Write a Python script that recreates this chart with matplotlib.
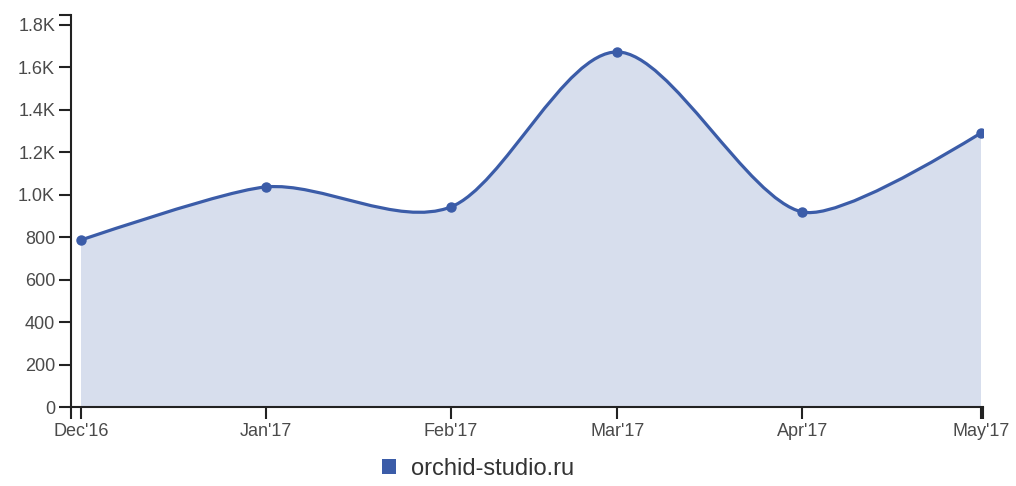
import datetime as dt

import matplotlib
matplotlib.use('Agg')
import matplotlib.pyplot as plt
import matplotlib.dates as mdates
from matplotlib.path import Path
from matplotlib.patches import PathPatch, Patch

plt.rcParams['font.family'] = ['Liberation Sans', 'DejaVu Sans']

# data
months = [dt.datetime(2016, 12, 1), dt.datetime(2017, 1, 1), dt.datetime(2017, 2, 1),
          dt.datetime(2017, 3, 1), dt.datetime(2017, 4, 1), dt.datetime(2017, 5, 1)]
visits = [787, 1037, 942, 1673, 919, 1291]
month_labels = ["Dec'16", "Jan'17", "Feb'17", "Mar'17", "Apr'17", "May'17"]
y_ticks = [0, 200, 400, 600, 800, 1000, 1200, 1400, 1600, 1800]
y_tick_labels = ['0', '200', '400', '600', '800', '1.0K', '1.2K', '1.4K', '1.6K', '1.8K']
series_name = 'orchid-studio.ru'

line_color = '#3b5ca8'
text_color = '#4a4a4a'


def cardinal_path(xs, ys, tension=0.7):
    # same curve as d3 v3 "cardinal" interpolation
    pts = list(zip(xs, ys))
    a = (1 - tension) / 2
    tang = []
    for i in range(1, len(pts) - 1):
        tang.append((a * (pts[i + 1][0] - pts[i - 1][0]), a * (pts[i + 1][1] - pts[i - 1][1])))
    verts = [pts[0]]
    codes = [Path.MOVETO]
    # first segment: quadratic
    p, t0 = pts[1], tang[0]
    verts += [(p[0] - t0[0] * 2 / 3, p[1] - t0[1] * 2 / 3), p]
    codes += [Path.CURVE3, Path.CURVE3]
    for i in range(1, len(tang)):
        p0, p1 = pts[i], pts[i + 1]
        ta, tb = tang[i - 1], tang[i]
        verts += [(p0[0] + ta[0], p0[1] + ta[1]), (p1[0] - tb[0], p1[1] - tb[1]), p1]
        codes += [Path.CURVE4] * 3
    p, t, lp = pts[-2], tang[-1], pts[-1]
    verts += [(p[0] + t[0] * 2 / 3, p[1] + t[1] * 2 / 3), lp]
    codes += [Path.CURVE3, Path.CURVE3]
    return verts, codes


xnum = mdates.date2num(months)
verts, codes = cardinal_path(list(xnum), visits)

fig = plt.figure(figsize=(10.16, 4.86), dpi=100)
ax = fig.add_axes([71 / 1016, 1 - 407 / 486, 912 / 1016, 392 / 486])

# area under the curve
fill_verts = verts + [(xnum[-1], 0), (xnum[0], 0), (xnum[0], visits[0])]
fill_codes = codes + [Path.LINETO, Path.LINETO, Path.CLOSEPOLY]
ax.add_patch(PathPatch(Path(fill_verts, fill_codes), facecolor=line_color, alpha=0.2,
                       edgecolor='none', zorder=1))
ax.add_patch(PathPatch(Path(verts, codes), facecolor='none', edgecolor=line_color,
                       lw=2.3, zorder=2))
ax.plot(months, visits, 'o', color=line_color, markersize=6.5, zorder=3)

px_day = 900 / (xnum[-1] - xnum[0])
ax.set_xlim(xnum[0] - 10 / px_day, xnum[-1] + 2 / px_day)
ax.set_ylim(0, 1847)

ax.set_xticks(xnum)
ax.set_xticklabels(month_labels)
ax.set_yticks(y_ticks)
ax.set_yticklabels(y_tick_labels)
# outer ticks at the ends of the axis lines, d3 style
ax.set_xticks(list(ax.get_xlim()), minor=True)
ax.set_yticks([ax.get_ylim()[1]], minor=True)

for side in ['top', 'right']:
    ax.spines[side].set_visible(False)
for side in ['left', 'bottom']:
    ax.spines[side].set_linewidth(1.5)
    ax.spines[side].set_color('#222222')

ax.tick_params(which='both', length=8.5, width=1.5, color='#222222', direction='out')
ax.tick_params(axis='both', labelsize=13, labelcolor=text_color, pad=3)

fig.legend(handles=[Patch(facecolor=line_color, edgecolor='none', label=series_name)],
           loc='center', bbox_to_anchor=(478 / 1016, 1 - 469 / 486), frameon=False,
           fontsize=17, handlelength=0.6, handleheight=0.6, handletextpad=0.6,
           labelcolor='#333333')

fig.savefig('out.png', dpi=100)
